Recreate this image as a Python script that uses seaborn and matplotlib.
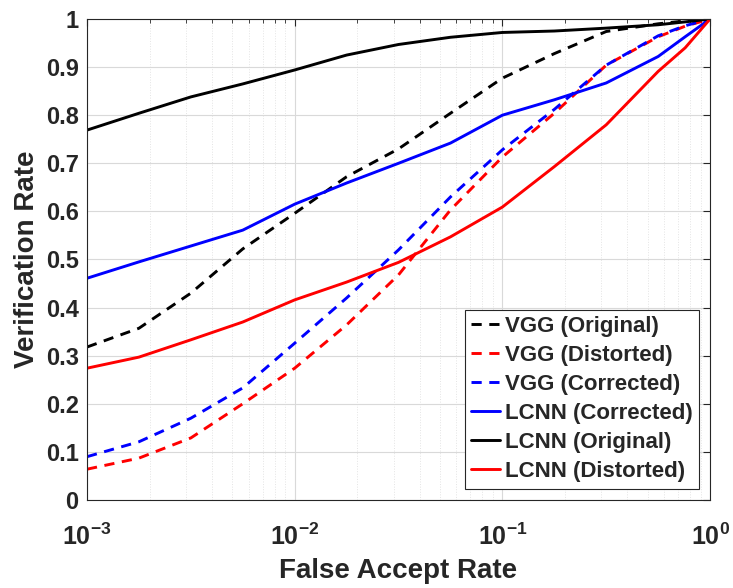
import numpy as np
import pandas as pd
import matplotlib
matplotlib.use("Agg")
import matplotlib.pyplot as plt
import seaborn as sns
from matplotlib.ticker import FixedLocator, LogLocator, NullFormatter

# log10 of False Accept Rate sample positions
far_log = [-3, -2.75, -2.5, -2.25, -2, -1.75, -1.5, -1.25, -1, -0.75, -0.5, -0.25, -0.12, 0]

vgg_original    = [0.318, 0.357, 0.430, 0.522, 0.596, 0.672, 0.730, 0.804, 0.877, 0.928, 0.974, 0.990, 0.996, 1.0]
vgg_distorted   = [0.064, 0.087, 0.129, 0.200, 0.274, 0.364, 0.468, 0.603, 0.713, 0.804, 0.904, 0.963, 0.985, 1.0]
vgg_corrected   = [0.090, 0.121, 0.170, 0.233, 0.326, 0.420, 0.520, 0.630, 0.728, 0.812, 0.904, 0.965, 0.986, 1.0]
lcnn_corrected  = [0.461, 0.495, 0.528, 0.561, 0.615, 0.659, 0.700, 0.742, 0.800, 0.832, 0.867, 0.922, 0.963, 1.0]
lcnn_original   = [0.769, 0.804, 0.838, 0.865, 0.894, 0.925, 0.947, 0.962, 0.972, 0.975, 0.981, 0.988, 0.994, 1.0]
lcnn_distorted  = [0.274, 0.297, 0.333, 0.370, 0.416, 0.453, 0.494, 0.547, 0.609, 0.693, 0.780, 0.891, 0.940, 1.0]

series_names = ["VGG (Original)", "VGG (Distorted)", "VGG (Corrected)",
                "LCNN (Corrected)", "LCNN (Original)", "LCNN (Distorted)"]
series_vals = [vgg_original, vgg_distorted, vgg_corrected,
               lcnn_corrected, lcnn_original, lcnn_distorted]
colors = ["black", "red", "blue", "blue", "black", "red"]
dashed = [True, True, True, False, False, False]

sns.set_style("white")
plt.rcParams['font.family'] = ['Liberation Sans', 'DejaVu Sans']
plt.rcParams['mathtext.fontset'] = 'custom'
plt.rcParams['mathtext.rm'] = 'Liberation Sans:bold'
plt.rcParams['mathtext.bf'] = 'Liberation Sans:bold'

fig = plt.figure(figsize=(7.33, 5.88), dpi=100)
ax = fig.add_axes([0.1187, 0.1497, 0.85, 0.818])

x_vals = [10 ** v for v in far_log]
for name, vals, c, d in zip(series_names, series_vals, colors, dashed):
    df = pd.DataFrame({"far": x_vals, "vr": vals})
    ls = (0, (3.5, 2.6)) if d else "-"
    sns.lineplot(data=df, x="far", y="vr", ax=ax, color=c, linestyle=ls,
                 linewidth=2.1, label=name, estimator=None, sort=False)

ax.set_xscale("log")
ax.set_xlim(1e-3, 1)
ax.set_ylim(0, 1)

ax.xaxis.set_major_locator(FixedLocator([1e-3, 1e-2, 1e-1, 1]))
ax.xaxis.set_minor_locator(LogLocator(base=10, subs=np.arange(2, 10)))
ax.xaxis.set_minor_formatter(NullFormatter())
ax.set_xticklabels([r"$\mathregular{10^{-3}}$", r"$\mathregular{10^{-2}}$",
                    r"$\mathregular{10^{-1}}$", r"$\mathregular{10^{0}}$"])
yt = [0, 0.1, 0.2, 0.3, 0.4, 0.5, 0.6, 0.7, 0.8, 0.9, 1]
ax.set_yticks(yt)
ax.set_yticklabels(["0", "0.1", "0.2", "0.3", "0.4", "0.5", "0.6", "0.7", "0.8", "0.9", "1"])

ax.grid(True, which="major", color="#d9d9d9", linewidth=0.8, linestyle="-")
ax.grid(True, which="minor", axis="x", color="#e4e4e4", linewidth=0.7, linestyle=":")
ax.set_axisbelow(True)

ax.tick_params(axis="both", which="both", direction="in", top=True, right=True,
               colors="#262626", labelcolor="#262626")
ax.tick_params(axis="both", which="major", length=5)
ax.tick_params(axis="y", which="major", labelsize=17, pad=6)
ax.tick_params(axis="x", which="major", labelsize=18, pad=17)
ax.tick_params(axis="x", which="minor", length=3)
for lab in ax.get_xticklabels() + ax.get_yticklabels():
    lab.set_fontweight("bold")
for s in ax.spines.values():
    s.set_color("#262626")
    s.set_linewidth(0.8)

ax.set_xlabel("False Accept Rate", fontsize=20, fontweight="bold", color="#262626", labelpad=6)
ax.set_ylabel("Verification Rate", fontsize=20, fontweight="bold", color="#262626", labelpad=4)

leg = ax.legend(loc="lower right", prop={"weight": "bold", "size": 16},
                handlelength=1.3, handletextpad=0.2, borderpad=0.3,
                labelspacing=0.36, fancybox=False, framealpha=1,
                edgecolor="#262626", borderaxespad=0.5)
leg.get_frame().set_linewidth(0.8)

fig.savefig("out.png", dpi=100)
